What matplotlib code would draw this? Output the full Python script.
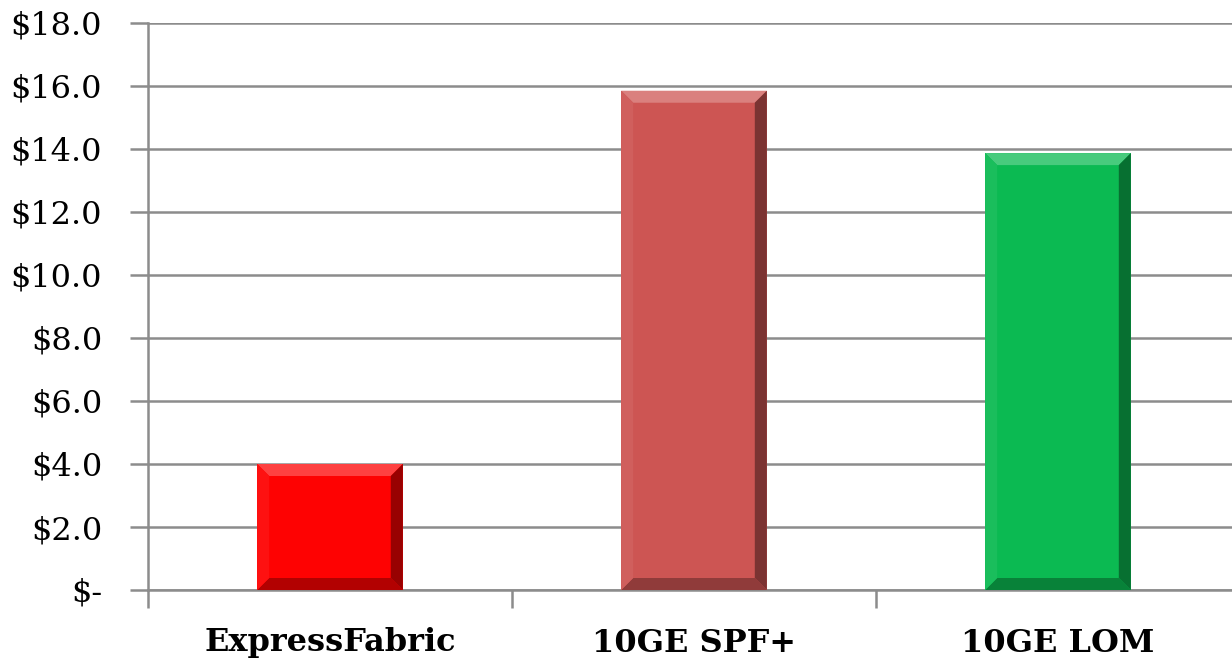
import numpy as np
import matplotlib.pyplot as plt
from matplotlib.patches import Polygon
from matplotlib.colors import to_rgb
from matplotlib.ticker import FuncFormatter

categories = ["ExpressFabric", "10GE SPF+", "10GE LOM"]
costs = [4.0, 15.85, 13.87]
colors = ["#fe0202", "#cd5553", "#0bba52"]

plt.rcParams['font.family'] = ['DejaVu Serif']


def shade(c, f):
    # f > 0 lightens, f < 0 darkens
    c = np.array(to_rgb(c))
    if f > 0:
        return tuple(c + (1 - c) * f)
    return tuple(c * (1 + f))


fig = plt.figure(figsize=(12.32, 6.61), dpi=100)
ax = fig.add_axes([148 / 1232, 1 - 590 / 661, 1092 / 1232, 567 / 661])

ind = np.arange(len(categories))
bars = ax.bar(ind, costs, width=0.4, color=colors, linewidth=0, zorder=3)

ax.set_ylim(0, 18)
ax.set_xlim(-0.5, len(categories) - 0.5)

# bevel look on each bar (bevel ~12 px)
bx = 12 / 364.0
by = 12 / 31.5
for b, c in zip(bars, colors):
    x0, w, h = b.get_x(), b.get_width(), b.get_height()
    x1 = x0 + w
    faces = [
        ([(x0, h), (x1, h), (x1 - bx, h - by), (x0 + bx, h - by)], shade(c, 0.25)),
        ([(x1, h), (x1, 0), (x1 - bx, by), (x1 - bx, h - by)], shade(c, -0.4)),
        ([(x0, 0), (x1, 0), (x1 - bx, by), (x0 + bx, by)], shade(c, -0.3)),
        ([(x0, 0), (x0, h), (x0 + bx, h - by), (x0 + bx, by)], shade(c, 0.06)),
    ]
    for pts, fc in faces:
        ax.add_patch(Polygon(pts, closed=True, facecolor=fc, edgecolor='none', zorder=4))

ax.set_yticks(np.arange(0, 19, 2))
ax.yaxis.set_major_formatter(FuncFormatter(lambda v, p: "$-" if v == 0 else "${:.1f}".format(v)))
ax.grid(axis='y', color='#8c8c8c', linewidth=1.8, zorder=0)

# category separators on the x axis
ax.set_xticks(np.arange(len(categories) + 1) - 0.5)
ax.set_xticklabels([])
ax.set_xticks(ind, minor=True)
ax.set_xticklabels(categories, minor=True, fontsize=23, fontweight='bold')
ax.tick_params(axis='x', which='minor', length=0, pad=27)
ax.tick_params(axis='x', which='major', length=13, width=1.8, color='#8c8c8c')
ax.tick_params(axis='y', length=13, width=1.8, color='#8c8c8c', labelsize=23, pad=20)

for s in ['top', 'right']:
    ax.spines[s].set_visible(False)
for s in ['left', 'bottom']:
    ax.spines[s].set_color('#8c8c8c')
    ax.spines[s].set_linewidth(1.8)

plt.savefig('out.png', dpi=100)
